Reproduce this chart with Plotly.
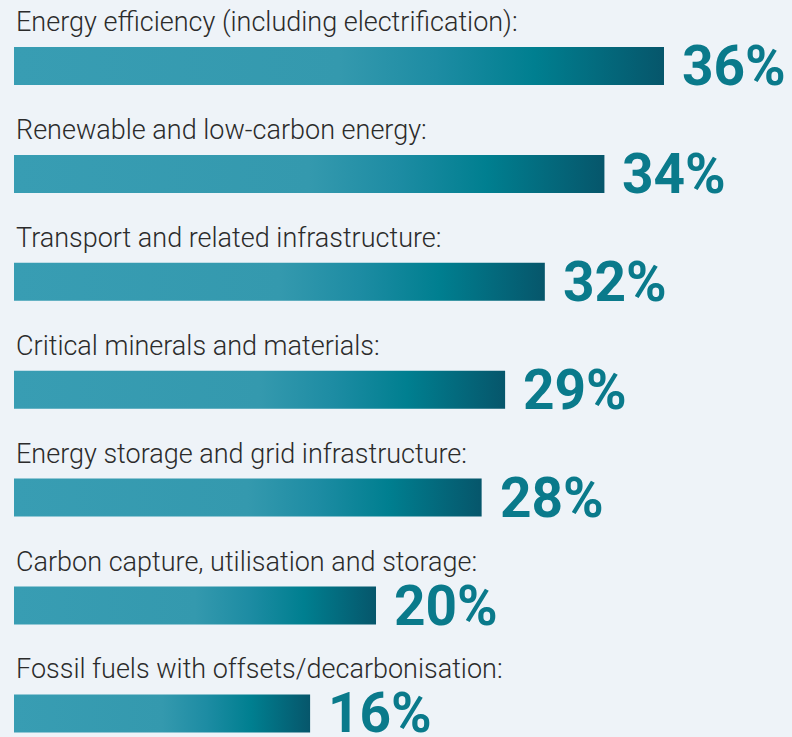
import plotly.graph_objects as go

categories = [
    "Energy efficiency (including electrification):",
    "Renewable and low-carbon energy:",
    "Transport and related infrastructure:",
    "Critical minerals and materials:",
    "Energy storage and grid infrastructure:",
    "Carbon capture, utilisation and storage:",
    "Fossil fuels with offsets/decarbonisation:",
]
values = [36, 34, 32, 29, 28, 20, 16]  # printed percentages
# bar lengths as drawn in the reference graphic
bar_lengths = [36.0, 32.7, 29.4, 27.2, 25.9, 20.05, 16.4]

BG = "#eef3f8"
TEAL_TEXT = "#0a7a8b"
gradient = [[0.0, "#389db3"], [0.5, "#3499ae"], [0.65, "#1d8ca3"],
            [0.8, "#007f90"], [1.0, "#06566b"]]

HALF = 0.176  # half bar thickness in category units

fig = go.Figure()
for i, (cat, L) in enumerate(zip(categories, bar_lengths)):
    fig.add_trace(go.Scatter(
        x=[0, L, L, 0, 0],
        y=[i - HALF, i - HALF, i + HALF, i + HALF, i - HALF],
        mode="lines", line=dict(width=0), fill="toself",
        fillcolor="#2a93a8",
        fillgradient=dict(type="horizontal", colorscale=gradient),
        hoverinfo="skip", showlegend=False,
    ))

annotations = []
for i, (cat, v, L) in enumerate(zip(categories, values, bar_lengths)):
    annotations.append(dict(
        x=0, y=i, xref="x", yref="y", text=cat, showarrow=False,
        xanchor="left", yanchor="middle", xshift=0, yshift=44,
        font=dict(family="Roboto", size=27, color="#2b2b2b", weight=300),
    ))
    annotations.append(dict(
        x=L, y=i, xref="x", yref="y", text=f"{v}%", showarrow=False,
        xanchor="left", yanchor="middle", xshift=16, yshift=0,
        font=dict(family="Roboto", size=55, color=TEAL_TEXT, weight="bold"),
    ))

px_per_unit = 650 / 36.0
fig.update_layout(
    width=792, height=737,
    margin=dict(l=0, r=0, t=0, b=0),
    paper_bgcolor=BG, plot_bgcolor=BG,
    xaxis=dict(range=[-14 / px_per_unit, 778 / px_per_unit], visible=False, fixedrange=True),
    yaxis=dict(range=[(737 - 66) / 107.9, -66 / 107.9], visible=False, fixedrange=True),
    annotations=annotations,
    showlegend=False,
)
fig.write_html(
    "out.html",
    config={"displayModeBar": False},
    post_script="document.body.style.margin='0';document.body.style.background='%s';" % BG,
)
